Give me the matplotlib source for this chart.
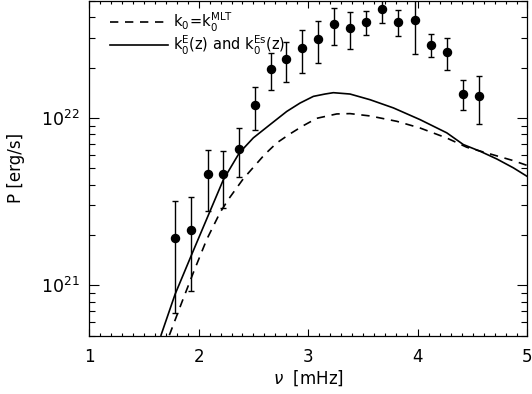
import numpy as np
import matplotlib
matplotlib.use("Agg")
import matplotlib.pyplot as plt
from matplotlib.ticker import LogLocator, MultipleLocator, FixedLocator, NullFormatter

# Observed points
freq_obs = [1.787, 1.933, 2.083, 2.225, 2.369, 2.515, 2.658, 2.797, 2.946, 3.092,
            3.233, 3.381, 3.527, 3.676, 3.822, 3.972, 4.118, 4.266, 4.415, 4.561]
p_obs = [1.93e21, 2.15e21, 4.63e21, 4.63e21, 6.56e21, 1.19e22, 1.95e22, 2.25e22, 2.61e22, 2.97e22,
         3.64e22, 3.46e22, 3.76e22, 4.48e22, 3.74e22, 3.83e22, 2.74e22, 2.48e22, 1.40e22, 1.35e22]
p_err = [1.25e21, 1.22e21, 1.84e21, 1.73e21, 2.13e21, 0.34e22, 0.48e22, 0.61e22, 0.75e22, 0.83e22,
         0.92e22, 0.86e22, 0.62e22, 0.80e22, 0.67e22, 1.41e22, 0.43e22, 0.54e22, 0.285e22, 0.435e22]

# Model k0^E(z), k0^Es(z) curve (solid)
freq_solid = [1.657, 1.785, 1.931, 2.104, 2.225, 2.371, 2.499, 2.651, 2.804, 2.925, 3.047, 3.153,
              3.229, 3.381, 3.564, 3.777, 4.020, 4.264, 4.415, 4.568, 4.720, 4.871, 4.994]
logp_solid = [20.702, 20.946, 21.175, 21.443, 21.630, 21.791, 21.881, 21.960, 22.039, 22.089, 22.129, 22.143,
              22.151, 22.143, 22.109, 22.060, 21.990, 21.911, 21.841, 21.801, 21.755, 21.702, 21.652]

# Model k0 = k0^MLT curve (dashed)
freq_dash = [1.733, 1.846, 1.952, 2.074, 2.195, 2.271, 2.408, 2.600, 2.713, 2.834, 2.955, 3.078,
             3.260, 3.381, 3.564, 3.808, 4.020, 4.264, 4.446, 4.659, 4.871, 4.994]
logp_dash = [20.702, 20.897, 21.076, 21.274, 21.434, 21.513, 21.637, 21.780, 21.851, 21.905, 21.954, 21.998,
             22.024, 22.026, 22.012, 21.980, 21.940, 21.880, 21.825, 21.785, 21.745, 21.717]

x_ticks = [1, 2, 3, 4, 5]
x_labels = ["1", "2", "3", "4", "5"]
legend_labels = [r"$\mathrm{k_0\!=\!k_0^{MLT}}$", r"$\mathrm{k_0^E(z)}$ and $\mathrm{k_0^{Es}(z)}$"]

fig = plt.figure(figsize=(5.32, 3.94), dpi=100)
ax = fig.add_axes([0.1673, 0.148, 0.8242, 0.8495])

p_dash = 10 ** np.array(logp_dash)
p_solid = 10 ** np.array(logp_solid)
ax.plot(freq_dash, p_dash, color="black", lw=1.2, ls=(0, (5, 4)), label=legend_labels[0])
ax.plot(freq_solid, p_solid, color="black", lw=1.2, ls="-", label=legend_labels[1])
ax.errorbar(freq_obs, p_obs, yerr=p_err, fmt="o", color="black", ms=5.8,
            elinewidth=1.0, capsize=2.5, capthick=1.0)

ax.set_yscale("log")
ax.set_xlim(1, 5)
ax.set_ylim(5e20, 5e22)

ax.xaxis.set_major_locator(FixedLocator(x_ticks))
ax.set_xticklabels(x_labels)
ax.xaxis.set_minor_locator(MultipleLocator(0.1))
ax.yaxis.set_major_locator(LogLocator(base=10, numticks=10))
ax.yaxis.set_minor_locator(LogLocator(base=10, subs=np.arange(2, 10), numticks=10))
ax.yaxis.set_minor_formatter(NullFormatter())

ax.tick_params(axis="both", which="both", direction="in", top=True, right=True, width=0.8)
ax.tick_params(axis="x", which="major", length=5, labelsize=12, pad=9)
ax.tick_params(axis="x", which="minor", length=2.5)
ax.tick_params(axis="y", which="major", length=7.5, labelsize=12.5, pad=7)
ax.tick_params(axis="y", which="minor", length=4)
for s in ax.spines.values():
    s.set_linewidth(0.9)

ax.set_xlabel(r"$\nu$  [mHz]", fontsize=12, labelpad=2)
ax.set_ylabel("P [erg/s]", fontsize=12, labelpad=11)

ax.legend(loc="upper left", frameon=False, fontsize=10.5, handlelength=4.0,
          handletextpad=0.3, labelspacing=0.0, borderaxespad=0.0, borderpad=0.0,
          bbox_to_anchor=(0.048, 0.972))

fig.savefig("out.png", dpi=100)
